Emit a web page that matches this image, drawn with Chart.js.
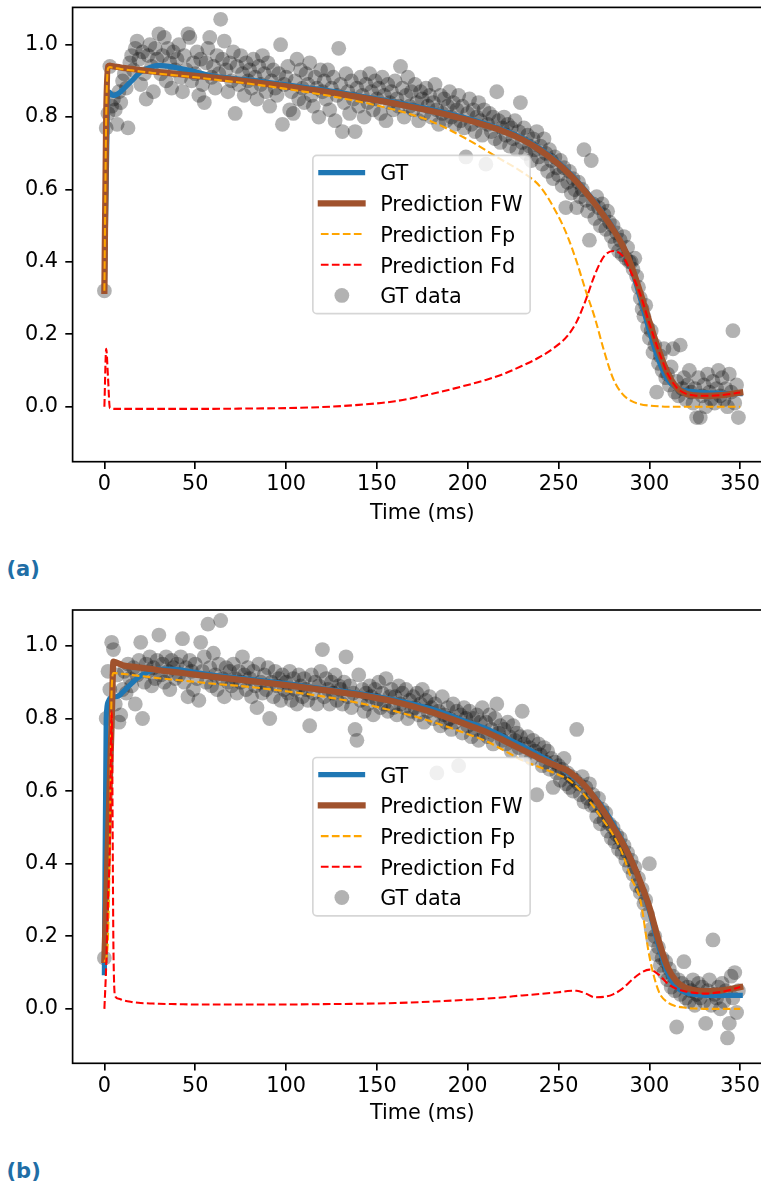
<!DOCTYPE html>
<html>
<head>
<meta charset="utf-8">
<script src="https://cdn.jsdelivr.net/npm/chart.js@4.4.0/dist/chart.umd.min.js"></script>
<style>
html, body { margin: 0; padding: 0; background: #fff; overflow: hidden; width: 761px; height: 1184px; }
.panel { position: absolute; left: 0; }
.tag { position: absolute; left: 6.5px; font-family: "DejaVu Sans"; font-weight: bold; font-size: 21px; line-height: 21px; color: #1f6ea6; }
</style>
</head>
<body>
<canvas id="chartA" class="panel" width="790" height="540" style="top:0px"></canvas>
<div class="tag" style="top:559px">(a)</div>
<canvas id="chartB" class="panel" width="790" height="540" style="top:600px"></canvas>
<div class="tag" style="top:1161px">(b)</div>
<script>
// axes
const xTicks = [0, 50, 100, 150, 200, 250, 300, 350];
const yTicks = [0.0, 0.2, 0.4, 0.6, 0.8, 1.0];
const legendOrder = ['GT', 'Prediction FW', 'Prediction Fp', 'Prediction Fd', 'GT data'];

// time grid of the fitted curves (ms)
const lineTime = [0, 1, 2, 3, 4, 5, 6, 8, 10, 15, 20, 25, 30, 40, 50, 60, 80, 100, 120, 140,
  160, 180, 200, 210, 220, 230, 240, 250, 255, 260, 265, 270, 275, 280, 285, 290, 295, 300, 305, 310,
  315, 320, 325, 330, 340, 350];

// GT data is sampled every 1 ms starting at 0 ms
const dataStart = 0, dataStep = 1;

// ---- panel (a) ----
const aGT = [0.32, 0.62, 0.87, 0.868, 0.862, 0.86, 0.861, 0.866, 0.875, 0.90,
  0.925, 0.937, 0.943, 0.936, 0.925, 0.913, 0.902, 0.889, 0.875, 0.859,
  0.841, 0.821, 0.796, 0.781, 0.764, 0.742, 0.712, 0.674, 0.651, 0.625,
  0.596, 0.565, 0.531, 0.494, 0.45, 0.385, 0.30, 0.21, 0.13, 0.075,
  0.052, 0.044, 0.041, 0.039, 0.037, 0.036];
const aFW = [0.32, 0.80, 0.94, 0.942, 0.941, 0.94, 0.939, 0.938, 0.936, 0.933,
  0.93, 0.927, 0.924, 0.919, 0.914, 0.909, 0.898, 0.885, 0.871, 0.855,
  0.837, 0.817, 0.792, 0.777, 0.76, 0.738, 0.708, 0.67, 0.647, 0.621,
  0.592, 0.561, 0.527, 0.49, 0.448, 0.39, 0.315, 0.235, 0.158, 0.093,
  0.053, 0.036, 0.031, 0.03, 0.032, 0.039];
const aFp = [0.32, 0.80, 0.935, 0.938, 0.937, 0.936, 0.935, 0.934, 0.932, 0.929,
  0.926, 0.923, 0.92, 0.915, 0.91, 0.904, 0.892, 0.878, 0.862, 0.843,
  0.82, 0.788, 0.738, 0.708, 0.678, 0.648, 0.607, 0.525, 0.47, 0.40,
  0.32, 0.245, 0.155, 0.078, 0.036, 0.016, 0.007, 0.003, 0.001, 0.0,
  0.0, 0.0, 0.0, 0.0, 0.0, 0.0];
const aFd = [0.0, 0.16, 0.08, -0.004, -0.005, -0.006, -0.006, -0.006, -0.006, -0.006,
  -0.006, -0.006, -0.006, -0.006, -0.006, -0.006, -0.005, -0.004, -0.001, 0.005,
  0.015, 0.035, 0.06, 0.074, 0.091, 0.113, 0.138, 0.172, 0.196, 0.235,
  0.295, 0.365, 0.415, 0.43, 0.418, 0.37, 0.31, 0.23, 0.156, 0.092,
  0.053, 0.036, 0.031, 0.03, 0.032, 0.039];
const aData = [
  0.32, 0.77, 0.81, 0.94, 0.83, 0.85, 0.82, 0.78, 0.87, 0.84,
  0.90, 0.92, 0.88, 0.77, 0.95, 0.97, 0.93, 0.99, 1.01, 0.96,
  0.89, 0.98, 0.92, 0.85, 0.97, 1.00, 0.94, 0.87, 0.99, 0.96,
  1.03, 0.92, 0.97, 1.02, 0.90, 0.99, 0.95, 0.88, 0.98, 0.93,
  0.96, 1.00, 0.91, 0.87, 0.97, 0.93, 1.03, 1.02, 0.90, 0.95,
  0.92, 0.98, 0.86, 0.96, 0.89, 0.84, 0.95, 0.99, 1.02, 0.91,
  0.94, 0.88, 0.97, 0.92, 1.07, 0.96, 1.01, 0.93, 0.87, 0.95,
  0.90, 0.98, 0.81, 0.94, 0.89, 0.97, 0.92, 0.86, 0.95, 0.90,
  0.93, 0.88, 0.96, 0.91, 0.85, 0.94, 0.89, 0.97, 0.92, 0.87,
  0.95, 0.83, 0.90, 0.93, 0.88, 0.86, 0.92, 1.00, 0.78, 0.89,
  0.91, 0.94, 0.82, 0.87, 0.81, 0.90, 0.96, 0.85, 0.93, 0.88,
  0.84, 0.92, 0.89, 0.95, 0.86, 0.83, 0.91, 0.88, 0.80, 0.93,
  0.87, 0.90, 0.85, 0.93, 0.82, 0.88, 0.91, 0.79, 0.86, 0.99,
  0.89, 0.76, 0.84, 0.92, 0.87, 0.81, 0.90, 0.85, 0.76, 0.88,
  0.83, 0.91, 0.86, 0.80, 0.89, 0.84, 0.92, 0.87, 0.82, 0.90,
  0.85, 0.88, 0.81, 0.91, 0.86, 0.79, 0.89, 0.84, 0.87, 0.82,
  0.90, 0.85, 0.83, 0.94, 0.88, 0.80, 0.86, 0.91, 0.83, 0.87,
  0.82, 0.89, 0.84, 0.79, 0.87, 0.85, 0.81, 0.88, 0.83, 0.86,
  0.80, 0.84, 0.89, 0.82, 0.78, 0.86, 0.81, 0.85, 0.79, 0.83,
  0.87, 0.80, 0.84, 0.78, 0.82, 0.86, 0.79, 0.83, 0.77, 0.69,
  0.81, 0.85, 0.78, 0.82, 0.76, 0.80, 0.84, 0.79, 0.75, 0.82,
  0.67, 0.78, 0.81, 0.76, 0.80, 0.74, 0.87, 0.79, 0.73, 0.77,
  0.80, 0.75, 0.78, 0.72, 0.77, 0.74, 0.79, 0.71, 0.76, 0.84,
  0.73, 0.77, 0.70, 0.75, 0.72, 0.68, 0.74, 0.71, 0.76, 0.69,
  0.72, 0.67, 0.74, 0.70, 0.65, 0.71, 0.68, 0.63, 0.69, 0.66,
  0.64, 0.68, 0.61, 0.66, 0.55, 0.62, 0.65, 0.59, 0.63, 0.60,
  0.55, 0.62, 0.58, 0.60, 0.71, 0.57, 0.54, 0.46, 0.68, 0.56,
  0.52, 0.58, 0.55, 0.50, 0.56, 0.53, 0.49, 0.54, 0.51, 0.47,
  0.50, 0.45, 0.48, 0.43, 0.46, 0.42, 0.47, 0.41, 0.44, 0.40,
  0.40, 0.38, 0.41, 0.36, 0.33, 0.30, 0.27, 0.25, 0.28, 0.22,
  0.19, 0.21, 0.15, 0.17, 0.04, 0.12, 0.14, 0.10, 0.16, 0.08,
  0.09, 0.06, 0.11, 0.16, 0.04, 0.07, 0.03, 0.17, 0.05, 0.08,
  0.02, 0.06, 0.10, 0.04, 0.01, 0.05, -0.03, 0.08, -0.03, 0.03,
  0.06, 0.00, 0.09, 0.04, 0.02, 0.07, 0.01, 0.05, 0.10, 0.03,
  0.08, 0.02, 0.05, 0.00, 0.09, 0.04, 0.21, 0.01, 0.06, -0.03];

// ---- panel (b) ----
const bGT = [0.10, 0.80, 0.845, 0.855, 0.858, 0.86, 0.86, 0.863, 0.872, 0.897,
  0.918, 0.93, 0.936, 0.935, 0.927, 0.919, 0.908, 0.896, 0.882, 0.869,
  0.851, 0.826, 0.79, 0.772, 0.749, 0.724, 0.697, 0.668, 0.651, 0.632,
  0.61, 0.583, 0.55, 0.51, 0.465, 0.413, 0.35, 0.27, 0.175, 0.10,
  0.06, 0.045, 0.04, 0.038, 0.037, 0.037];
const bFW = [0.135, 0.30, 0.465, 0.63, 0.79, 0.957, 0.955, 0.951, 0.947, 0.943,
  0.94, 0.937, 0.933, 0.927, 0.921, 0.915, 0.904, 0.892, 0.879, 0.865,
  0.846, 0.818, 0.782, 0.763, 0.739, 0.714, 0.689, 0.667, 0.656, 0.636,
  0.612, 0.58, 0.543, 0.502, 0.46, 0.41, 0.35, 0.28, 0.19, 0.115,
  0.075, 0.058, 0.051, 0.049, 0.051, 0.06];
const bFp = [0.13, 0.14, 0.20, 0.45, 0.88, 0.925, 0.925, 0.924, 0.923, 0.92,
  0.917, 0.914, 0.911, 0.906, 0.901, 0.896, 0.887, 0.875, 0.861, 0.843,
  0.82, 0.792, 0.757, 0.738, 0.712, 0.685, 0.665, 0.645, 0.633, 0.612,
  0.585, 0.552, 0.517, 0.48, 0.43, 0.36, 0.30, 0.145, 0.05, 0.018,
  0.007, 0.003, 0.001, 0.0, 0.0, 0.0];
const bFd = [0.0, 0.12, 0.30, 0.45, 0.82, 0.16, 0.034, 0.028, 0.024, 0.019,
  0.016, 0.015, 0.014, 0.013, 0.012, 0.012, 0.012, 0.012, 0.013, 0.014,
  0.016, 0.02, 0.025, 0.028, 0.032, 0.037, 0.041, 0.046, 0.049, 0.05,
  0.042, 0.032, 0.033, 0.04, 0.055, 0.078, 0.098, 0.108, 0.095, 0.07,
  0.055, 0.048, 0.044, 0.042, 0.047, 0.06];
const bData = [
  0.14, 0.80, 0.93, 0.88, 1.01, 0.99, 0.84, 0.92, 0.79, 0.81,
  0.88, 0.93, 0.87, 0.95, 0.91, 0.89, 0.94, 0.84, 0.92, 0.96,
  1.01, 0.80, 0.90, 0.95, 0.93, 0.97, 0.89, 0.94, 0.91, 0.96,
  1.03, 0.92, 0.95, 0.90, 0.97, 0.93, 0.88, 0.96, 0.94, 0.91,
  0.95, 0.92, 0.97, 1.02, 0.90, 0.94, 0.86, 0.96, 0.93, 0.88,
  0.95, 0.91, 0.85, 1.01, 0.93, 0.97, 0.90, 1.06, 0.94, 0.89,
  0.98, 0.92, 0.88, 0.95, 1.07, 0.91, 0.86, 0.94, 0.90, 0.93,
  0.89, 0.95, 0.91, 0.87, 0.93, 0.90, 0.97, 0.92, 0.88, 0.94,
  0.91, 0.86, 0.93, 0.89, 0.83, 0.95, 0.90, 0.87, 0.92, 0.88,
  0.94, 0.80, 0.90, 0.86, 0.93, 0.89, 0.91, 0.85, 0.92, 0.88,
  0.90, 0.87, 0.93, 0.85, 0.91, 0.88, 0.84, 0.92, 0.89, 0.86,
  0.91, 0.88, 0.85, 0.78, 0.92, 0.87, 0.90, 0.84, 0.89, 0.93,
  0.99, 0.86, 0.91, 0.88, 0.84, 0.90, 0.87, 0.92, 0.85, 0.89,
  0.88, 0.84, 0.90, 0.97, 0.86, 0.89, 0.83, 0.87, 0.77, 0.74,
  0.92, 0.85, 0.88, 0.82, 0.87, 0.84, 0.89, 0.86, 0.81, 0.88,
  0.85, 0.90, 0.83, 0.87, 0.84, 0.91, 0.82, 0.86, 0.88, 0.83,
  0.86, 0.81, 0.89, 0.84, 0.87, 0.83, 0.88, 0.80, 0.85, 0.82,
  0.86, 0.83, 0.87, 0.81, 0.84, 0.88, 0.79, 0.85, 0.82, 0.86,
  0.83, 0.80, 0.84, 0.65, 0.82, 0.78, 0.86, 0.81, 0.79, 0.83,
  0.80, 0.77, 0.84, 0.79, 0.82, 0.67, 0.81, 0.76, 0.83, 0.80,
  0.78, 0.82, 0.75, 0.80, 0.77, 0.81, 0.74, 0.79, 0.83, 0.76,
  0.79, 0.75, 0.81, 0.77, 0.73, 0.80, 0.84, 0.76, 0.78, 0.74,
  0.77, 0.73, 0.79, 0.75, 0.71, 0.78, 0.74, 0.76, 0.72, 0.75,
  0.82, 0.73, 0.70, 0.75, 0.72, 0.69, 0.74, 0.71, 0.59, 0.73,
  0.70, 0.67, 0.72, 0.68, 0.71, 0.66, 0.69, 0.61, 0.68, 0.65,
  0.67, 0.63, 0.66, 0.69, 0.62, 0.65, 0.61, 0.64, 0.60, 0.63,
  0.77, 0.62, 0.59, 0.64, 0.57, 0.61, 0.58, 0.62, 0.56, 0.59,
  0.56, 0.53, 0.58, 0.51, 0.55, 0.52, 0.54, 0.49, 0.51, 0.47,
  0.50, 0.46, 0.48, 0.44, 0.47, 0.43, 0.45, 0.41, 0.43, 0.39,
  0.41, 0.37, 0.39, 0.34, 0.36, 0.32, 0.33, 0.29, 0.30, 0.26,
  0.40, 0.22, 0.19, 0.20, 0.15, 0.17, 0.12, 0.14, 0.10, 0.13,
  0.08, 0.11, 0.06, 0.09, 0.05, -0.05, 0.08, 0.04, 0.07, 0.13,
  0.03, 0.06, 0.02, 0.05, 0.08, 0.01, 0.04, 0.07, 0.03, 0.06,
  0.02, -0.04, 0.05, 0.08, 0.01, 0.19, 0.04, 0.03, 0.06, 0.00,
  0.07, 0.02, 0.05, -0.08, -0.04, 0.09, 0.03, 0.10, -0.01, 0.05];

Chart.defaults.font.family = '"DejaVu Sans"';
Chart.defaults.font.size = 20.8;
Chart.defaults.color = '#000';

function xy(ts, vs) {
  return vs.map((v, i) => ({x: ts[i], y: v}));
}
function sampled(vs) {
  return vs.map((v, i) => ({x: dataStart + i * dataStep, y: v}));
}

// axes frame + legend in the centre of the plot, like matplotlib loc='center'
const frameLegend = {
  id: 'frameLegend',
  afterDraw(chart) {
    const ctx = chart.ctx, a = chart.chartArea;
    ctx.save();
    ctx.lineWidth = 1.67;
    ctx.strokeStyle = '#000';
    ctx.strokeRect(a.left, a.top, a.right - a.left, a.bottom - a.top);

    const w = 217.3, h = 158.3;
    const x0 = (a.left + a.right) / 2 - w / 2 - 0.8;
    const y0 = (a.top + a.bottom) / 2 - h / 2;
    ctx.beginPath();
    ctx.roundRect(x0, y0, w, h, 4);
    ctx.fillStyle = 'rgba(255,255,255,0.8)';
    ctx.fill();
    ctx.strokeStyle = 'rgba(204,204,204,0.8)';
    ctx.lineWidth = 1.67;
    ctx.stroke();

    ctx.font = '20.8px "DejaVu Sans"';
    ctx.textAlign = 'left';
    ctx.textBaseline = 'alphabetic';
    legendOrder.forEach((label, i) => {
      const ds = chart.data.datasets.find(d => d.label === label);
      const yy = y0 + 17.2 + i * 30.7;
      if (ds.showLine === false) {
        ctx.beginPath();
        ctx.arc(x0 + 29, yy, ds.pointRadius, 0, Math.PI * 2);
        ctx.fillStyle = ds.pointBackgroundColor;
        ctx.fill();
      } else {
        ctx.beginPath();
        ctx.setLineDash(ds.borderDash || []);
        ctx.lineCap = ds.borderDash ? 'butt' : 'square';
        ctx.strokeStyle = ds.borderColor;
        ctx.lineWidth = ds.borderWidth;
        ctx.moveTo(x0 + 8, yy);
        ctx.lineTo(x0 + 49.7, yy);
        ctx.stroke();
        ctx.setLineDash([]);
      }
      ctx.fillStyle = '#000';
      ctx.fillText(label, x0 + 67.3, yy + 7.8);
    });
    ctx.restore();
  }
};

function solid(label, vs, color, width, order) {
  return {label: label, data: xy(lineTime, vs), borderColor: color, borderWidth: width,
    pointRadius: 0, fill: false, cubicInterpolationMode: 'monotone',
    borderCapStyle: 'square', borderJoinStyle: 'round', order: order};
}
function dashed(label, vs, color, order) {
  return {label: label, data: xy(lineTime, vs), borderColor: color, borderWidth: 2.08,
    borderDash: [7.7, 3.3], pointRadius: 0, fill: false, cubicInterpolationMode: 'monotone',
    borderCapStyle: 'butt', order: order};
}

function makeChart(id, gt, fw, fp, fd, pts, plotTop, plotBottom, yMin, yMax) {
  const H = 540;
  return new Chart(document.getElementById(id), {
    type: 'line',
    data: {
      datasets: [
        solid('GT', gt, '#1f77b4', 5.2, 4),
        solid('Prediction FW', fw, '#a0522d', 6.25, 3),
        dashed('Prediction Fp', fp, '#ffa500', 2),
        dashed('Prediction Fd', fd, '#ff0000', 1),
        // scatter sits underneath the curves
        {label: 'GT data', data: sampled(pts), showLine: false, pointRadius: 7.4,
          pointBackgroundColor: 'rgba(0,0,0,0.3)', pointBorderWidth: 0, order: 5}
      ]
    },
    options: {
      responsive: false,
      animation: false,
      events: [],
      layout: {padding: {top: plotTop, right: 18, bottom: 0, left: 0}},
      plugins: {legend: {display: false}, tooltip: {enabled: false}},
      scales: {
        x: {
          type: 'linear', min: -17.5, max: 367.5,
          afterBuildTicks: s => { s.ticks = xTicks.map(v => ({value: v})); },
          afterFit: s => { s.height = H - plotBottom; s.paddingLeft = 0; s.paddingRight = 0; },
          grid: {drawOnChartArea: false, drawTicks: true, tickLength: 7.3, color: '#000', lineWidth: 1.67},
          border: {display: false},
          ticks: {padding: 3.4, autoSkip: false, maxRotation: 0, callback: v => String(v)},
          title: {display: true, text: 'Time (ms)', font: {size: 20.8, lineHeight: 1.2},
            padding: {top: 0, bottom: 14.2}}
        },
        y: {
          type: 'linear', min: yMin, max: yMax,
          afterBuildTicks: s => { s.ticks = yTicks.map(v => ({value: v})); },
          afterFit: s => { s.width = 72.6; s.paddingTop = 0; s.paddingBottom = 0; },
          grid: {drawOnChartArea: false, drawTicks: true, tickLength: 7.3, color: '#000', lineWidth: 1.67},
          border: {display: false},
          ticks: {padding: 7.3, callback: v => v.toFixed(1)}
        }
      }
    },
    plugins: [frameLegend]
  });
}

makeChart('chartA', aGT, aFW, aFp, aFd, aData, 7.3, 461.7, -0.152, 1.103);
makeChart('chartB', bGT, bFW, bFp, bFd, bData, 10, 463.3, -0.150, 1.099);
</script>
</body>
</html>
